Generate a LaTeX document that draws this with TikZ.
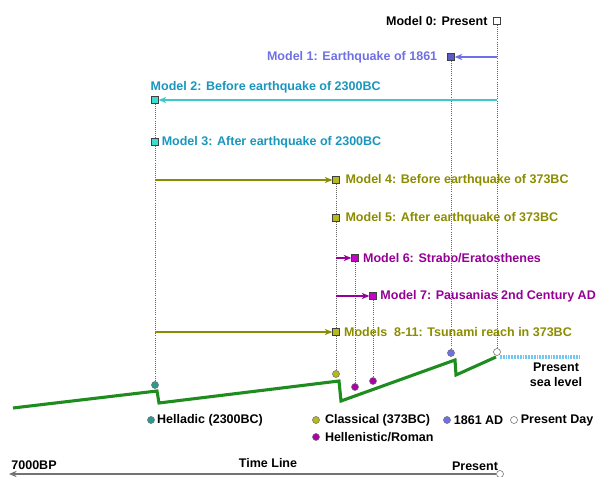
\documentclass[tikz,border=0pt]{standalone}
\usepackage{fontspec}
\setmainfont{Liberation Sans}
\usetikzlibrary{arrows.meta,positioning}

\definecolor{quake}{RGB}{112,112,230}
\definecolor{quakefill}{RGB}{90,90,200}
\definecolor{helltext}{RGB}{25,150,190}
\definecolor{hellarrow}{RGB}{64,200,200}
\definecolor{hellfill}{RGB}{60,220,210}
\definecolor{olive}{RGB}{140,140,0}
\definecolor{olivefill}{RGB}{185,185,30}
\definecolor{roman}{RGB}{150,0,150}
\definecolor{romanfill}{RGB}{200,0,200}
\definecolor{ground}{RGB}{30,140,30}
\definecolor{sea}{RGB}{80,185,240}

\begin{document}
\begin{tikzpicture}[
  x=0.025cm, y=-0.025cm,
  font=\fontsize{8.9}{10.5}\selectfont\bfseries,
  >={Stealth[length=5.5pt,width=4.5pt]},
  box/.style={
    draw=black!75,
    line width=0.6pt,
    minimum size=4.6pt,
    inner sep=0pt
  },
  dot/.style={
    circle,
    draw=black!55,
    line width=0.4pt,
    minimum size=5pt,
    inner sep=0pt
  },
  lbl/.style={inner sep=1pt},
  guide/.style={densely dotted, black!60, line width=0.5pt},
  link/.style={->, line width=0.8pt},
  shore/.style={ground, line width=2.2pt, line join=miter}
]
\useasboundingbox (0,0) rectangle (600,477);

% Model markers
\node[box, fill=white] (m0) at (497,21) {};
\node[box, fill=quakefill] (m1) at (451,57) {};
\node[box, fill=hellfill] (m2) at (155,100) {};
\node[box, fill=hellfill] (m3) at (155,142) {};
\node[box, fill=olivefill] (m4) at (336,180) {};
\node[box, fill=olivefill] (m5) at (336,218) {};
\node[box, fill=romanfill] (m6) at (355,258) {};
\node[box, fill=romanfill] (m7) at (373,296) {};
\node[box, fill=olivefill] (m8) at (336,332) {};

% Model labels
\node[lbl, left=3pt of m0] (t0) {Model 0: Present};
\node[lbl, quake, left=6pt of m1] (t1) {Model 1: Earthquake of 1861};
\node[lbl, helltext, anchor=west] (t2) at (149,87) {Model 2: Before earthquake of 2300BC};
\node[lbl, helltext, right=1pt of m3] (t3) {Model 3: After earthquake of 2300BC};
\node[lbl, olive, right=3pt of m4] (t4) {Model 4: Before earthquake of 373BC};
\node[lbl, olive, right=3pt of m5] (t5) {Model 5: After earthquake of 373BC};
\node[lbl, roman, right=2pt of m6] (t6) {Model 6: Strabo/Eratosthenes};
\node[lbl, roman, right=1.5pt of m7] (t7) {Model 7: Pausanias 2nd Century AD};
\node[lbl, olive, right=2pt of m8] (t8) {Models\ \ 8-11: Tsunami reach in 373BC};

% Shoreline markers
\node[dot, fill=hellfill!70!black] (c2) at (155,385) {};
\node[dot, fill=olivefill] (c4) at (336,374) {};
\node[dot, fill=romanfill!85!black] (c6) at (355,387) {};
\node[dot, fill=romanfill!85!black] (c7) at (373,381) {};
\node[dot, fill=quake] (c1) at (451,353) {};
\node[dot, fill=white] (c0) at (497,352) {};

% Guide lines
\draw[guide] (m0) -- (c0);
\draw[guide] (m1) -- (c1);
\draw[guide] (m2) -- (m3);
\draw[guide] (m3) -- (c2);
\draw[guide] (m4) -- (m5);
\draw[guide] (m5) -- (m8);
\draw[guide] (m8) -- (c4);
\draw[guide] (m6) -- (c6);
\draw[guide] (m7) -- (c7);

% Links between models
\coordinate (a1) at (m0 |- m1);
\coordinate (a2) at (m0 |- m2);
\coordinate (a4) at (m2 |- m4);
\coordinate (a6) at (m4 |- m6);
\coordinate (a7) at (m4 |- m7);
\coordinate (a8) at (m2 |- m8);
\draw[link, quake] (a1) -- (m1);
\draw[link, hellarrow] (a2) -- (m2);
\draw[link, olive] (a4) -- (m4);
\draw[link, roman] (a6) -- (m6);
\draw[link, roman] (a7) -- (m7);
\draw[link, olive] (a8) -- (m8);

% Shoreline and sea level
\draw[shore] (13,408) -- (157,391) -- (159,403) -- (339,381) -- (341,401)
  -- (455,360) -- (456,375) -- (496,357);
\draw[sea!80, line width=2.6pt] (499,357) -- (580,357);
\draw[white, line width=2.6pt, dash pattern=on 0.5pt off 1.5pt] (499,357) -- (580,357);
\node[lbl, align=center] (sealvl) at (556,375) {Present\\sea level};

% Legend
\node[dot, fill=hellfill!70!black] (k1) at (151,420) {};
\node[lbl, right=0.5pt of k1] {Helladic (2300BC)};
\node[dot, fill=olivefill] (k2) at (316,420) {};
\node[lbl, right=2.5pt of k2] {Classical (373BC)};
\node[dot, fill=quake] (k3) at (447,420) {};
\node[lbl, right=1pt of k3] {1861 AD};
\node[dot, fill=white] (k4) at (514,420) {};
\node[lbl, right=1pt of k4] {Present Day};
\node[dot, fill=romanfill!85!black] (k5) at (316,437) {};
\node[lbl, right=2.5pt of k5] {Hellenistic/Roman};

% Time line
\node[lbl] (past) at (34,465) {7000BP};
\node[lbl] (tline) at (268,463) {Time Line};
\node[lbl] (now) at (475,466) {Present};
\node[dot, fill=white] (tnow) at (500,474) {};
\coordinate (tpast) at (9,474);
\draw[->, black!55, line width=0.8pt] (tnow) -- (tpast);

\end{tikzpicture}
\end{document}
